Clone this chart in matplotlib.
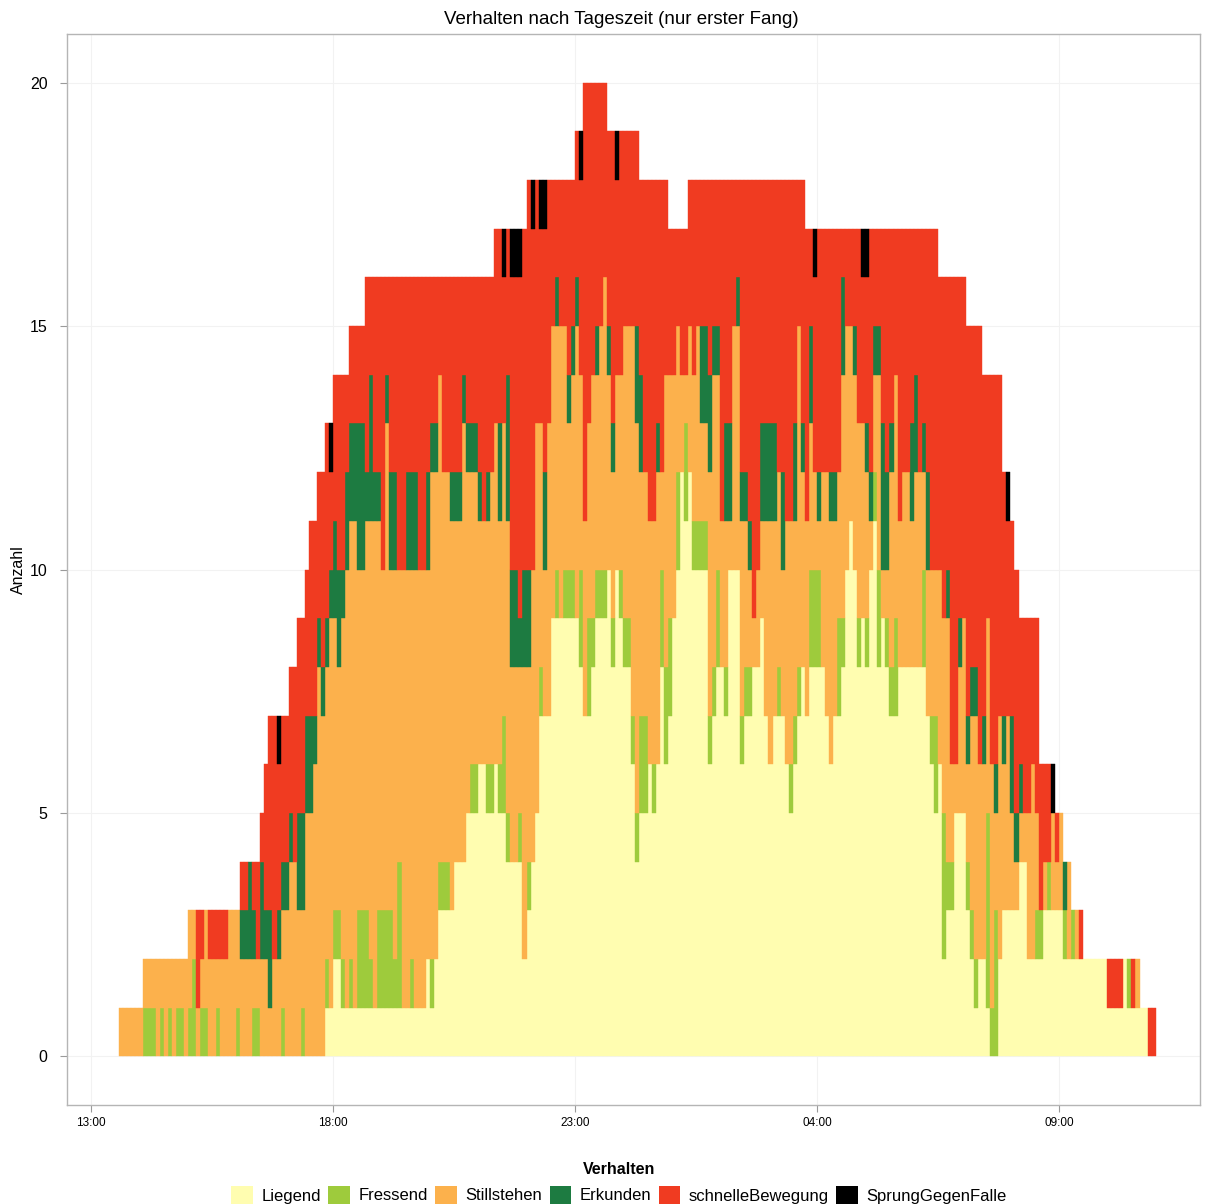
import numpy as np
import pandas as pd
import matplotlib
matplotlib.use("Agg")
import matplotlib.pyplot as plt
import matplotlib.dates as mdates
from matplotlib.patches import Patch

plt.rcParams['font.family'] = ['Liberation Sans', 'DejaVu Sans']

# Anzahl Tiere je 5-Minuten-Intervall ab 13:35 (ein Zeichen je Intervall, Basis 36)
gesamt_str = [
    "1111112222", "2222222333", "3333333333", "4444456777", "778899abbc",
    "cddeeeefff", "fggggggggg", "gggggggggg", "gggggggggg", "ggghhhhhhh",
    "hiiiiiiiii", "iiijjkkkkk", "kjjjjjjjji", "iiiiiihhhh", "hiiiiiiiii",
    "iiiiiiiiii", "iiiiiiiiii", "hhhhhhhhhh", "hhhhhhhhhh", "hhhhhhhhhh",
    "hhhggggggg", "ffffeeeeec", "cba9999966", "6655443332", "2222222222",
    "2221111"]
liegend_str = [
    "0000000000", "0000000000", "0000000000", "0000000000", "0000000000",
    "0112211111", "1111111111", "1111112123", "3334445556", "6556554444",
    "2345777999", "9999877899", "9a8a988645", "56568679ac", "bcaaaa6788",
    "7aaa677889", "7677765678", "7888876778", "aba898ab89", "8778888888",
    "7656233555", "3212210023", "3334422223", "3333222222", "2222211112",
    "1111100"]
fressend_str = [
    "0000001110", "1010110120", "1100100001", "0001100000", "1000010000",
    "0101110102", "2210222213", "0010000101", "1100000110", "0110121001",
    "0100100010", "1110202111", "1010111112", "2010222020", "2011111120",
    "1000111000", "0001001110", "0222000021", "0001010120", "1120000002",
    "0120311000", "1110041300", "0000000110", "1000101000", "0000000000",
    "1000000"]
stillstehen_str = [
    "1111111112", "1212112211", "1222122332", "2221122122", "2344325568",
    "76865799a7", "789a87a786", "9989998aaa", "8887797665", "5567566443",
    "6468536656", "5346444545", "6434466885", "5556265532", "1334225643",
    "3155432122", "4544355474", "4321455435", "5444431241", "1453443442",
    "3334452134", "2454445253", "4211134201", "0212020100", "0000000000",
    "0010000"]
erkunden_str = [
    "0000000000", "0000000000", "0000000000", "1121021201", "1110222211",
    "1112212223", "3131101220", "0222002110", "0011111111", "0100203221",
    "2200020010", "0111000010", "0110000022", "0001000000", "0000222110",
    "2201111002", "2220200201", "0201001102", "0010011113", "2100002201",
    "2000010010", "1110100101", "0211000000", "0000100000", "0000000000",
    "0000000"]
sprung_str = [
    "0000000000", "0000000000", "0000000000", "0000000001", "0000000000",
    "0010000000", "0000000000", "0000000000", "0000000000", "0000010111",
    "0010110000", "0000100000", "0001000000", "0000000000", "0000000000",
    "0000000000", "0000000000", "0010000000", "0000110000", "0000000000",
    "0000000000", "0000000000", "1000000000", "0100000000", "0000000000",
    "0000000"]

kategorien = ["Liegend", "Fressend", "Stillstehen", "Erkunden",
              "schnelleBewegung", "SprungGegenFalle"]
farben = ["#FFFDB0", "#9ECB3C", "#FCB14C", "#1D7B41", "#F03B21", "#000000"]


def decode(groups):
    return np.array([int(c, 36) for c in "".join(groups)])


gesamt = decode(gesamt_str)
liegend = decode(liegend_str)
fressend = decode(fressend_str)
stillstehen = decode(stillstehen_str)
erkunden = decode(erkunden_str)
sprung = decode(sprung_str)
# schnelle Bewegung = Rest bis zur Gesamtzahl
schnell = np.clip(gesamt - (liegend + fressend + stillstehen + erkunden + sprung), 0, None)

serien = [liegend, fressend, stillstehen, erkunden, schnell, sprung]
zeiten = pd.date_range("2013-07-01 13:35", periods=len(gesamt), freq="5min")
breite = 5 / 1440

fig = plt.figure(figsize=(12.08, 12.04), dpi=100)
ax = fig.add_axes([67 / 1208, 1 - 1105 / 1204, (1200 - 67) / 1208, (1105 - 34) / 1204])

unten = np.zeros(len(gesamt))
for werte, farbe in zip(serien, farben):
    m = werte > 0
    ax.bar(zeiten[m], werte[m], width=breite, bottom=unten[m], align="edge",
           color=farbe, edgecolor=farbe, linewidth=0.3)
    unten = unten + werte

ax.set_xlim(pd.Timestamp("2013-07-01 12:30:15"), pd.Timestamp("2013-07-02 11:55"))
ax.set_ylim(-1, 21)
ax.set_yticks([0, 5, 10, 15, 20])
ax.set_xticks([pd.Timestamp(t) for t in ["2013-07-01 13:00", "2013-07-01 18:00",
                                         "2013-07-01 23:00", "2013-07-02 04:00",
                                         "2013-07-02 09:00"]])
ax.xaxis.set_major_formatter(mdates.DateFormatter("%H:%M"))

ax.grid(True, color="#F2F2F2", linewidth=0.8)
ax.set_axisbelow(True)
for sp in ax.spines.values():
    sp.set_color("#B5B5B5")
    sp.set_linewidth(1.0)
ax.tick_params(axis="both", color="#9A9A9A", length=5, width=0.8)
ax.tick_params(axis="y", labelsize=11.5, pad=9)
ax.tick_params(axis="x", labelsize=8.5, pad=4)

fig.text(621 / 1208, 1 - 20 / 1204, "Verhalten nach Tageszeit (nur erster Fang)",
         ha="center", va="center", fontsize=13.5)
fig.text(18 / 1208, 1 - 570 / 1204, "Anzahl", rotation=90,
         ha="center", va="center", fontsize=11.5)

handles = [Patch(facecolor=f, edgecolor="none") for f in farben]
fig.legend(handles, kategorien, loc="lower center", bbox_to_anchor=(619 / 1208, 0.0),
           ncol=6, frameon=False, title="Verhalten",
           title_fontproperties={"weight": "bold", "size": 11.5}, fontsize=12,
           handlelength=1.3, handleheight=1.3, handletextpad=0.5,
           columnspacing=0.45, borderaxespad=0, borderpad=0)

fig.savefig("out.png", dpi=100)
